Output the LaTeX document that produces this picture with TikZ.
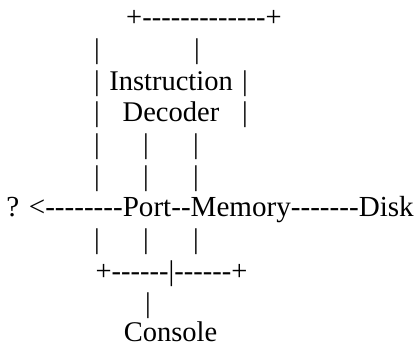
\documentclass[tikz,border=0pt]{standalone}
\usepackage{fontspec}
\setmainfont{Liberation Serif}[Ligatures=TeXOff]
\begin{document}
\begin{tikzpicture}[x=1pt,y=-1pt,
  txt/.style={inner sep=0pt,outer sep=0pt,anchor=base,font=\fontsize{28.5}{32}\selectfont},
  wide/.style={txt,font=\fontsize{29.1}{32}\selectfont}]
\useasboundingbox (0,0) rectangle (418,347);
% line 1
\node[txt] (l1) at (204,26.8) {+-------------+};
% line 2
\node[txt] (l2a) at (97,58.5) {|};
\node[txt] (l2b) at (197,58.5) {|};
% line 3
\node[txt] (l3a) at (97,90.2) {|};
\node[txt] (l3b) at (171,90.2) {Instruction};
\node[txt] (l3c) at (245,90.2) {|};
% line 4
\node[txt] (l4a) at (97,121.9) {|};
\node[txt] (l4b) at (171,121.9) {Decoder};
\node[txt] (l4c) at (245,121.9) {|};
% line 5
\node[txt] (l5a) at (97,153.6) {|};
\node[txt] (l5b) at (146,153.6) {|};
\node[txt] (l5c) at (196,153.6) {|};
% line 6
\node[txt] (l6a) at (97,185.3) {|};
\node[txt] (l6b) at (146,185.3) {|};
\node[txt] (l6c) at (196,185.3) {|};
% line 7
\node[wide] (l7) at (210,217) {? <--------Port--Memory-------Disk};
% line 8
\node[txt] (l8a) at (97,248.7) {|};
\node[txt] (l8b) at (146,248.7) {|};
\node[txt] (l8c) at (196,248.7) {|};
% line 9
\node[txt] (l9) at (171.5,280.4) {+------|------+};
% line 10
\node[txt] (l10) at (148,312.1) {|};
% line 11
\node[txt] (l11) at (170.5,342) {Console};
\end{tikzpicture}
\end{document}
